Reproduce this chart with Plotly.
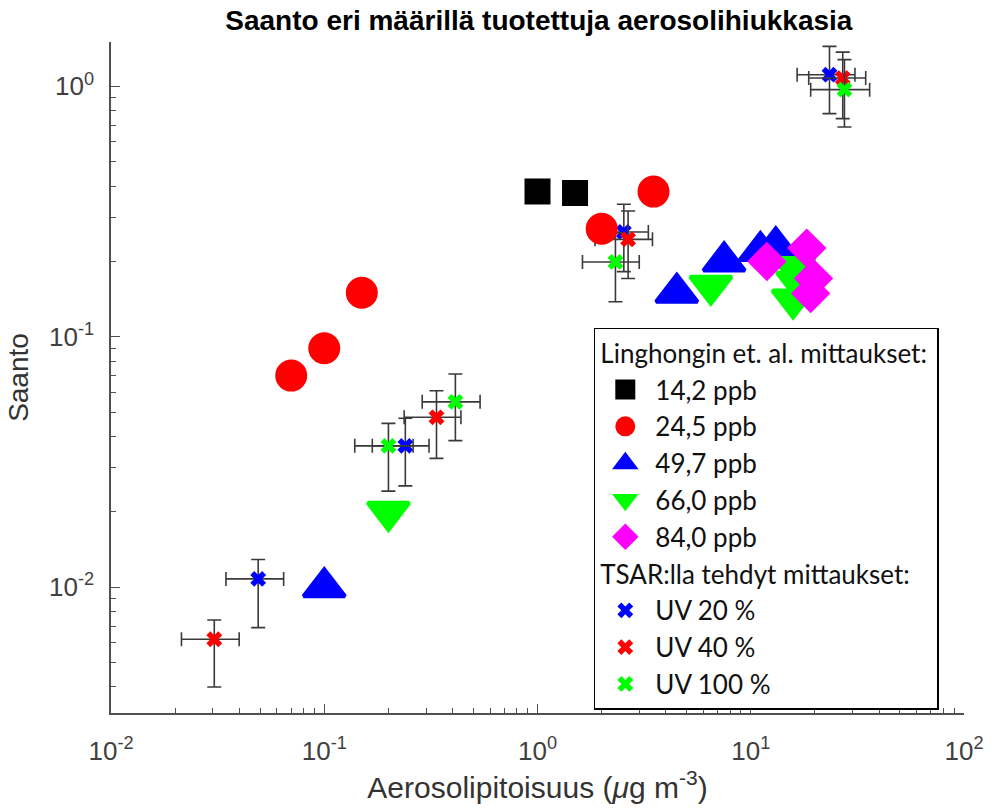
import plotly.graph_objects as go

# ---- Linghongin et al. measurements: (aerosol mass, yield) ----
sq_x = [1.0, 1.5]
sq_y = [0.38, 0.375]

ci_x = [0.07, 0.10, 0.15, 2.0, 3.5]
ci_y = [0.07, 0.09, 0.15, 0.27, 0.38]

tu_x = [0.10, 4.5, 7.5, 11.1, 13.1]
tu_y = [0.010, 0.15, 0.20, 0.22, 0.23]

td_x = [0.20, 6.5, 16.0, 16.6, 15.8]
td_y = [0.020, 0.16, 0.19, 0.166, 0.141]

di_x = [11.9, 18.3, 19.7, 19.1]
di_y = [0.20, 0.226, 0.171, 0.149]

# ---- TSAR measurements with error bars ----
uv20_x = [0.049, 0.240, 2.54, 23.4]
uv20_xlo = [0.0346, 0.168, 1.76, 16.5]
uv20_xhi = [0.0645, 0.310, 3.31, 30.8]
uv20_y = [0.0108, 0.0367, 0.262, 1.113]
uv20_ylo = [0.0069, 0.0254, 0.182, 0.778]
uv20_yhi = [0.0129, 0.0473, 0.338, 1.444]

uv40_x = [0.0305, 0.336, 2.66, 27.0]
uv40_xlo = [0.0214, 0.237, 1.86, 18.7]
uv40_xhi = [0.0399, 0.4375, 3.46, 34.6]
uv40_y = [0.0062, 0.0477, 0.245, 1.079]
uv40_ylo = [0.0040, 0.0327, 0.171, 0.743]
uv40_yhi = [0.0074, 0.0609, 0.318, 1.37]

uv100_x = [0.200, 0.412, 2.32, 27.5]
uv100_xlo = [0.139, 0.288, 1.625, 19.1]
uv100_xhi = [0.261, 0.538, 3.00, 36.1]
uv100_y = [0.0367, 0.055, 0.199, 0.970]
uv100_ylo = [0.0242, 0.0385, 0.138, 0.688]
uv100_yhi = [0.0451, 0.071, 0.260, 1.278]

x_ticks = [0.01, 0.1, 1, 10, 100]
x_ticktext = ["10<sup>-2</sup>", "10<sup>-1</sup>", "10<sup>0</sup>", "10<sup>1</sup>", "10<sup>2</sup>"]
y_ticks = [0.01, 0.1, 1]
y_ticktext = ["10<sup>-2</sup>", "10<sup>-1</sup>", "10<sup>0</sup>"]

title_text = "Saanto eri määrillä tuotettuja aerosolihiukkasia"
x_title = "Aerosolipitoisuus (<i>μ</i>g m<sup>-3</sup>)"
y_title = "Saanto"
group1_title = "Linghongin et. al. mittaukset:"
group2_title = "TSAR:lla tehdyt mittaukset:"

ERR_COL = "#3a3a3a"


def err(center, lo, hi):
    plus = [h - c for c, h in zip(center, hi)]
    minus = [c - l for c, l in zip(center, lo)]
    return plus, minus


fig = go.Figure()

tsar = [
    ("UV 20 %", "#0000ff", uv20_x, uv20_xlo, uv20_xhi, uv20_y, uv20_ylo, uv20_yhi, 6),
    ("UV 40 %", "#ff0000", uv40_x, uv40_xlo, uv40_xhi, uv40_y, uv40_ylo, uv40_yhi, 7),
    ("UV 100 %", "#00ff00", uv100_x, uv100_xlo, uv100_xhi, uv100_y, uv100_ylo, uv100_yhi, 8),
]
for name, col, x, xlo, xhi, y, ylo, yhi, rank in tsar:
    xp, xm = err(x, xlo, xhi)
    yp, ym = err(y, ylo, yhi)
    fig.add_trace(go.Scatter(
        x=x, y=y, mode="markers", name=name,
        marker=dict(symbol="x", size=14, color=col, line=dict(width=0)),
        error_x=dict(type="data", symmetric=False, array=xp, arrayminus=xm,
                     color=ERR_COL, thickness=1.6, width=7),
        error_y=dict(type="data", symmetric=False, array=yp, arrayminus=ym,
                     color=ERR_COL, thickness=1.6, width=7),
        legendgroup=f"g{rank}", legendrank=rank,
        legendgrouptitle=dict(text=group2_title) if rank == 6 else None,
    ))

ling = [
    ("14,2 ppb", "square", "#000000", sq_x, sq_y, 22, 1),
    ("24,5 ppb", "circle", "#ff0000", ci_x, ci_y, 28, 2),
    ("49,7 ppb", "triangle-up", "#0000ff", tu_x, tu_y, 36, 3),
    ("66,0 ppb", "triangle-down", "#00ff00", td_x, td_y, 36, 4),
    ("84,0 ppb", "diamond", "#ff00ff", di_x, di_y, 26, 5),
]
for name, sym, col, x, y, size, rank in ling:
    fig.add_trace(go.Scatter(
        x=x, y=y, mode="markers", name=name,
        marker=dict(symbol=sym, size=size, color=col, line=dict(width=4, color=col)),
        legendgroup=f"g{rank}", legendrank=rank,
        legendgrouptitle=dict(text=group1_title) if rank == 1 else None,
    ))

AX_COL = "#505050"
TICK_FONT = dict(family="Liberation Sans, Arial, sans-serif", size=26, color="#404040")

fig.update_layout(
    width=996, height=812,
    margin=dict(l=111, r=24, t=42, b=99),
    paper_bgcolor="white", plot_bgcolor="white",
    title=dict(text=f"<b>{title_text}</b>", x=0.541, xanchor="center", y=0.975, yanchor="middle",
               font=dict(family="Liberation Sans, Arial, sans-serif", size=28, color="#000000")),
    showlegend=True,
    legend=dict(
        x=0.566, y=0.574, xanchor="left", yanchor="top",
        bgcolor="white", bordercolor="#000000", borderwidth=1.5,
        font=dict(family="Lato, Carlito, sans-serif", size=26, color="#111111"),
        grouptitlefont=dict(family="Lato, Carlito, sans-serif", size=26, color="#111111"),
        traceorder="grouped", tracegroupgap=0, itemsizing="trace", itemwidth=50,
    ),
)

fig.update_xaxes(
    type="log", range=[-2, 2],
    showline=True, linecolor=AX_COL, linewidth=1.5, mirror=False,
    showgrid=False, zeroline=False,
    ticks="inside", ticklen=9, tickwidth=1.2, tickcolor=AX_COL,
    tickvals=x_ticks, ticktext=x_ticktext, tickfont=TICK_FONT, ticklabelstandoff=14,
    minor=dict(ticks="inside", ticklen=5, tickwidth=1.2, tickcolor=AX_COL,
               tickvals=[m * 10.0 ** e for e in range(-2, 2) for m in range(2, 10)]),
    title=dict(text=x_title, font=dict(family="Liberation Sans, Arial, sans-serif", size=30, color="#333333"),
               standoff=12),
)
fig.update_yaxes(
    type="log", range=[-2.502, 0.177],
    showline=True, linecolor=AX_COL, linewidth=1.5, mirror=False,
    showgrid=False, zeroline=False,
    ticks="inside", ticklen=9, tickwidth=1.2, tickcolor=AX_COL,
    tickvals=y_ticks, ticktext=y_ticktext, tickfont=TICK_FONT, ticklabelstandoff=10,
    minor=dict(ticks="inside", ticklen=5, tickwidth=1.2, tickcolor=AX_COL,
               tickvals=[m * 10.0 ** e for e in range(-3, 1) for m in range(2, 10)]),
    title=dict(text=y_title, font=dict(family="Liberation Sans, Arial, sans-serif", size=28, color="#333333"),
               standoff=12),
)

fig.write_html("out.html")
